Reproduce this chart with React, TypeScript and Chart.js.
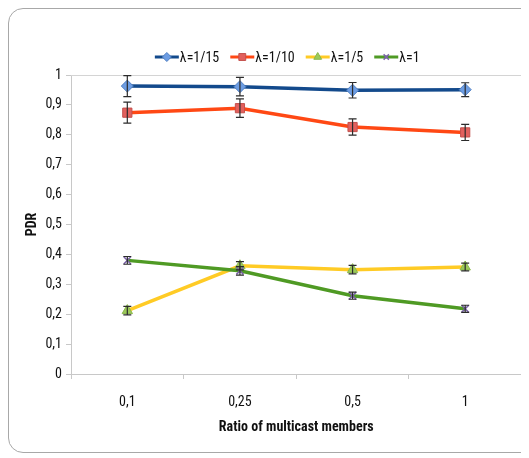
import React, { useEffect, useRef } from "react";
import { Chart, registerables } from "chart.js";
import { drawPoint } from "chart.js/helpers";

Chart.register(...registerables);

const categories = ["0,1", "0,25", "0,5", "1"];
const yTickLabels = ["0", "0,1", "0,2", "0,3", "0,4", "0,5", "0,6", "0,7", "0,8", "0,9", "1"];
const seriesNames = ["λ=1/15", "λ=1/10", "λ=1/5", "λ=1"];

const pdr15 = [0.963, 0.961, 0.949, 0.951];
const pdr10 = [0.874, 0.889, 0.826, 0.808];
const pdr5 = [0.212, 0.362, 0.349, 0.358];
const pdr1 = [0.38, 0.345, 0.262, 0.218];

const err15 = [0.035, 0.031, 0.026, 0.023];
const err10 = [0.035, 0.031, 0.027, 0.027];
const err5 = [0.014, 0.014, 0.014, 0.013];
const err1 = [0.013, 0.014, 0.012, 0.012];

const FONT = "'Roboto Condensed', 'Carlito', 'Liberation Sans Narrow', sans-serif";

const errorBarsPlugin = {
  id: "errorBars",
  afterDatasetsDraw(chart: any) {
    const ctx = chart.ctx;
    const y = chart.scales.y;
    ctx.save();
    ctx.strokeStyle = "#2b2b2b";
    ctx.lineWidth = 1.2;
    chart.data.datasets.forEach((ds: any, i: number) => {
      const meta = chart.getDatasetMeta(i);
      const errs = ds.errors as number[];
      meta.data.forEach((pt: any, j: number) => {
        const v = ds.data[j];
        const top = y.getPixelForValue(v + errs[j]);
        const bot = y.getPixelForValue(v - errs[j]);
        const x = pt.x;
        ctx.beginPath();
        ctx.moveTo(x, top);
        ctx.lineTo(x, bot);
        ctx.moveTo(x - 4, top);
        ctx.lineTo(x + 4, top);
        ctx.moveTo(x - 4, bot);
        ctx.lineTo(x + 4, bot);
        ctx.stroke();
      });
    });
    ctx.restore();
  },
};

const frameAndLegendPlugin = {
  id: "frameLegend",
  beforeDatasetsDraw(chart: any) {
    const { ctx, chartArea } = chart;
    ctx.save();
    ctx.strokeStyle = "#d4d4d4";
    ctx.lineWidth = 1;
    ctx.beginPath();
    ctx.moveTo(chartArea.left, chartArea.top + 0.5);
    ctx.lineTo(chartArea.right + 0.5, chartArea.top + 0.5);
    ctx.lineTo(chartArea.right + 0.5, chartArea.bottom);
    ctx.stroke();
    ctx.restore();
  },
  afterDraw(chart: any) {
    const { ctx, chartArea } = chart;
    ctx.save();
    ctx.font = "14px " + FONT;
    ctx.textBaseline = "middle";
    const lineLen = 24;
    const gap = 11;
    const items = chart.data.datasets.map((ds: any) => ({
      ds,
      w: lineLen + 1 + ctx.measureText(ds.label).width,
    }));
    const total = items.reduce((s: number, it: any) => s + it.w, 0) + gap * (items.length - 1);
    const center = (chartArea.left + chartArea.right) / 2 - 9;
    let x = center - total / 2;
    const yy = 49;
    items.forEach((it: any) => {
      const ds = it.ds;
      ctx.strokeStyle = ds.borderColor;
      ctx.lineWidth = 3;
      ctx.beginPath();
      ctx.moveTo(x, yy);
      ctx.lineTo(x + lineLen, yy);
      ctx.stroke();
      ctx.fillStyle = ds.pointBackgroundColor;
      ctx.strokeStyle = ds.pointBorderColor;
      ctx.lineWidth = ds.pointBorderWidth;
      drawPoint(ctx, { pointStyle: ds.pointStyle, radius: ds.pointRadius * 0.75, borderWidth: ds.pointBorderWidth, rotation: 0 }, x + lineLen / 2, yy);
      ctx.fillStyle = "#111";
      ctx.textAlign = "left";
      ctx.fillText(ds.label, x + lineLen + 1, yy + 1);
      x += it.w + gap;
    });
    ctx.restore();
  },
};

export default function App() {
  const ref = useRef<HTMLCanvasElement>(null);
  useEffect(() => {
    if (!ref.current) return;
    const mk = (i: number, data: number[], errors: number[], line: string, style: string, radius: number, fill: string, border: string, bw: number, order: number) => ({
      label: seriesNames[i],
      data,
      errors,
      borderColor: line,
      borderWidth: 3.5,
      pointStyle: style,
      pointRadius: radius,
      pointHoverRadius: radius,
      pointBackgroundColor: fill,
      pointBorderColor: border,
      pointBorderWidth: bw,
      tension: 0,
      fill: false,
      order,
    });
    const chart = new Chart(ref.current, {
      type: "line",
      data: {
        labels: categories,
        datasets: [
          mk(0, pdr15, err15, "#134a8c", "rectRot", 6, "#6d9de3", "#4f7fc2", 1, 3),
          mk(1, pdr10, err10, "#ff4814", "rect", 6.5, "#e2605d", "#c4504c", 1, 2),
          mk(2, pdr5, err5, "#ffcb25", "triangle", 6, "#9cc95a", "#8ab84a", 1, 1),
          mk(3, pdr1, err1, "#4f9a24", "crossRot", 5, "#8064a2", "#7b63a8", 1.5, 0),
        ] as any,
      },
      options: {
        animation: false,
        responsive: false,
        layout: { padding: { top: 67, right: 7, left: 0, bottom: 0 } },
        plugins: { legend: { display: false }, tooltip: { enabled: false } },
        scales: {
          x: {
            offset: true,
            grid: { offset: true, drawOnChartArea: false, drawTicks: true, tickLength: 5, color: "#c8c8c8" },
            border: { color: "#c8c8c8" },
            ticks: { color: "#111", font: { family: FONT, size: 14 }, padding: 15, maxRotation: 0 },
            title: { display: true, text: "Ratio of multicast members", color: "#111", font: { family: FONT, size: 14, weight: "bold" }, padding: { top: 0, bottom: 22 } },
            afterFit: (s: any) => { s.height = 84; },
          },
          y: {
            min: 0,
            max: 1,
            ticks: {
              stepSize: 0.1,
              color: "#111",
              font: { family: FONT, size: 14 },
              padding: 4,
              callback: (_v: any, idx: number) => yTickLabels[idx],
            },
            grid: { drawOnChartArea: false, drawTicks: true, tickLength: 5, color: "#c8c8c8" },
            border: { color: "#c8c8c8" },
            title: { display: true, text: "PDR", color: "#111", font: { family: FONT, size: 14, weight: "bold" }, padding: { top: 16, bottom: 0 } },
            afterFit: (s: any) => { s.width = 63; },
          },
        },
      },
      plugins: [errorBarsPlugin, frameAndLegendPlugin],
    } as any);
    return () => chart.destroy();
  }, []);
  return (
    <div style={{ position: "relative", width: 521, height: 450, overflow: "hidden" }}>
      <div style={{ position: "absolute", left: 0, top: 0, width: 560, height: 445, border: "1px solid #a8a8a8", borderRadius: 15, boxSizing: "border-box" }} />
      <canvas ref={ref} width={521} height={450} style={{ position: "absolute", left: 0, top: 0, width: 521, height: 450 }} />
    </div>
  );
}
